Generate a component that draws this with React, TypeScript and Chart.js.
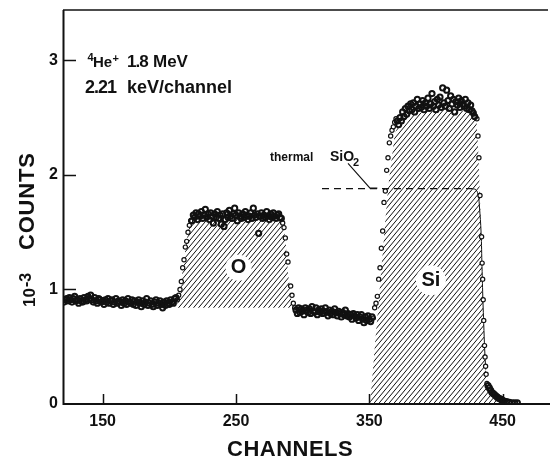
import { useEffect, useRef } from "react";
import { Chart, registerables } from "chart.js";

Chart.register(...registerables);

const FONT = '"Liberation Sans", Arial, sans-serif';
const INK = "#111";

// Axis ticks
const channelTicks = [150, 250, 350, 450];
const countTicks = [0, 1, 2, 3];

// Backscattering spectrum, counts in units of 10^3 per channel.
// Bulk signal in front of the oxygen edge (one value per channel, from lowPlateauStart)
const lowPlateauStart = 121;
const lowPlateauCounts = [
  0.89, 0.91, 0.92, 0.9, 0.93, 0.91, 0.89, 0.92, 0.94, 0.9, 0.91, 0.88, 0.92, 0.9, 0.89, 0.93, 0.91, 0.9, 0.94, 0.92,
  0.95, 0.91, 0.89, 0.93, 0.9, 0.88, 0.92, 0.91, 0.89, 0.9, 0.87, 0.91, 0.89, 0.92, 0.88, 0.9, 0.91, 0.87, 0.89, 0.92,
  0.88, 0.9, 0.89, 0.86, 0.91, 0.88, 0.9, 0.87, 0.92, 0.89, 0.88, 0.91, 0.87, 0.9, 0.86, 0.89, 0.91, 0.88, 0.85, 0.9,
  0.87, 0.89, 0.92, 0.86, 0.88, 0.9, 0.87, 0.85, 0.89, 0.91, 0.86, 0.88, 0.9, 0.87, 0.84, 0.89, 0.86, 0.9, 0.88, 0.87,
  0.91, 0.89, 0.88, 0.92, 0.93,
];
// Oxygen front edge
const oxygenRiseStart = 206;
const oxygenRiseCounts = [0.91, 0.95, 1.0, 1.07, 1.19, 1.26, 1.37, 1.42, 1.5, 1.56, 1.6];
// Oxygen plateau
const oxygenTopStart = 217;
const oxygenTopCounts = [
  1.6, 1.65, 1.63, 1.67, 1.61, 1.66, 1.64, 1.68, 1.62, 1.65,
  1.7, 1.63, 1.66, 1.61, 1.67, 1.64, 1.58, 1.66, 1.63, 1.68,
  1.62, 1.65, 1.57, 1.66, 1.55, 1.61, 1.67, 1.63, 1.69, 1.64,
  1.62, 1.66, 1.71, 1.65, 1.6, 1.67, 1.64, 1.62, 1.66, 1.63,
  1.68, 1.65, 1.61, 1.64, 1.67, 1.62, 1.71, 1.65, 1.63, 1.66,
  1.49, 1.64, 1.67, 1.62, 1.65, 1.63, 1.68, 1.64, 1.61, 1.66,
  1.63, 1.67, 1.64, 1.62, 1.65, 1.66, 1.63, 1.62,
];
// Oxygen rear edge
const oxygenFallChannels = [285, 286, 287, 288, 289, 291, 292, 293, 294];
const oxygenFallCounts = [1.58, 1.54, 1.45, 1.31, 1.24, 1.03, 0.95, 0.88, 0.84];
// Between the oxygen and silicon signals
const valleyStart = 295;
const valleyCounts = [
  0.82, 0.79, 0.84, 0.8, 0.83, 0.81, 0.78, 0.84, 0.82, 0.8,
  0.83, 0.79, 0.85, 0.81, 0.8, 0.84, 0.78, 0.82, 0.8, 0.83,
  0.79, 0.81, 0.84, 0.8, 0.77, 0.82, 0.79, 0.81, 0.78, 0.83,
  0.8, 0.77, 0.81, 0.79, 0.76, 0.8, 0.78, 0.82, 0.77, 0.79,
  0.76, 0.78, 0.74, 0.79, 0.77, 0.75, 0.78, 0.73, 0.76, 0.78,
  0.74, 0.71, 0.76, 0.73, 0.77, 0.74, 0.72, 0.76,
];
// Silicon front edge
const siliconRiseStart = 353;
const siliconRiseCounts = [0.75, 0.84, 0.88, 0.94, 1.09, 1.19, 1.36, 1.51, 1.76, 1.86, 2.04, 2.15, 2.28, 2.34, 2.39, 2.42, 2.46, 2.49];
// Silicon plateau
const siliconTopStart = 371;
const siliconTopCounts = [
  2.47,
  2.44, 2.5, 2.47, 2.55, 2.51, 2.58, 2.53, 2.6, 2.56, 2.62,
  2.57, 2.63, 2.55, 2.6, 2.66, 2.58, 2.62, 2.59, 2.65, 2.57,
  2.63, 2.6, 2.67, 2.58, 2.62, 2.71, 2.6, 2.64, 2.57, 2.66,
  2.61, 2.68, 2.59, 2.76, 2.63, 2.6, 2.74, 2.65, 2.58, 2.69,
  2.62, 2.66, 2.55, 2.64, 2.61, 2.67, 2.59, 2.65, 2.62, 2.6,
  2.66, 2.58, 2.63, 2.57, 2.61, 2.56, 2.54, 2.51,
];
// Silicon surface edge and tail
const siliconFallChannels = [430.7, 431.5, 432.2, 433, 434.2, 434.6, 435, 435.4, 435.8, 436.4, 436.8, 437.2, 437.6, 438.2];
const siliconFallCounts = [2.49, 2.34, 2.15, 1.82, 1.46, 1.23, 1.09, 0.91, 0.73, 0.51, 0.41, 0.33, 0.26, 0.18];
const tailChannels = [439, 440, 441, 442, 443, 444, 445, 446, 447, 448, 449, 450, 451, 453, 455, 457, 459, 461];
const tailCounts = [0.16, 0.14, 0.12, 0.1, 0.09, 0.08, 0.07, 0.06, 0.05, 0.045, 0.04, 0.03, 0.025, 0.02, 0.015, 0.01, 0.01, 0.01];

// Hatched peak areas
const oxygenAreaChannels = [205.5, 208, 213, 215.5, 225, 240, 255, 270, 284.5, 287, 289, 291, 292.5];
const oxygenAreaCounts = [0.84, 1.0, 1.43, 1.6, 1.61, 1.61, 1.62, 1.62, 1.6, 1.45, 1.15, 0.95, 0.84];
const oxygenAreaBase = 0.84;
const siliconAreaChannels = [350.5, 357, 364, 369, 372, 380, 395, 410, 422, 429, 430.5, 431.3, 432, 432.8, 433.8, 434.5, 435.2, 435.8, 436.5, 437.3, 438.2, 440, 444, 450.5];
const siliconAreaCounts = [0, 0.9, 1.88, 2.35, 2.45, 2.52, 2.56, 2.58, 2.56, 2.52, 2.45, 2.3, 2.12, 1.85, 1.5, 1.2, 0.9, 0.7, 0.48, 0.3, 0.18, 0.12, 0.06, 0];

// Thermal SiO2 reference level and its rounded rear edge
const sio2Level = 1.88;
const sio2Channels = [314.5, 427];
const sio2EdgeChannels = [427, 430, 431.7, 432.6, 433.8, 434.5, 435.2, 435.8, 436.5, 437.3];
const sio2EdgeCounts = [1.88, 1.87, 1.82, 1.72, 1.5, 1.2, 0.9, 0.7, 0.48, 0.3];
const leaderChannels = [334, 350.5, 356];
const leaderCounts = [2.1, 1.885, 1.885];

const run = (start: number, counts: number[]) => counts.map((c, i) => ({ x: start + i, y: c }));
const pairs = (chs: number[], counts: number[]) => chs.map((ch, i) => ({ x: ch, y: counts[i] }));

// Plateaus, where channels pile up into a dark band
const densePoints = [
  ...run(lowPlateauStart, lowPlateauCounts),
  ...run(oxygenTopStart, oxygenTopCounts),
  ...run(valleyStart, valleyCounts),
  ...run(siliconTopStart, siliconTopCounts),
  ...pairs(tailChannels, tailCounts),
];
// Edges, where single channels stand apart
const edgePoints = [
  ...run(oxygenRiseStart, oxygenRiseCounts),
  ...pairs(oxygenFallChannels, oxygenFallCounts),
  ...run(siliconRiseStart, siliconRiseCounts),
  ...pairs(siliconFallChannels, siliconFallCounts),
];

function makeHatch(): CanvasPattern | string {
  const w = 5;
  const h = 6;
  const c = document.createElement("canvas");
  c.width = w;
  c.height = h;
  const g = c.getContext("2d");
  if (!g) return INK;
  g.strokeStyle = INK;
  g.lineWidth = 1;
  g.beginPath();
  for (const dx of [-w, 0, w]) {
    g.moveTo(dx - w, 2 * h);
    g.lineTo(dx + 2 * w, -h);
  }
  g.stroke();
  return g.createPattern(c, "repeat") || INK;
}

const text = (
  ctx: CanvasRenderingContext2D,
  s: string,
  x: number,
  y: number,
  size: number,
  spacing = 0
) => {
  ctx.font = `bold ${size}px ${FONT}`;
  (ctx as any).letterSpacing = `${spacing}px`;
  ctx.fillText(s, x, y);
  (ctx as any).letterSpacing = "0px";
};

const decorations = {
  id: "decorations",
  afterDatasetsDraw(chart: Chart) {
    const { ctx } = chart;
    const xs = chart.scales.x;
    const ys = chart.scales.y;
    const badge = (label: string, ch: number, v: number, r: number, size: number) => {
      const px = xs.getPixelForValue(ch);
      const py = ys.getPixelForValue(v);
      ctx.save();
      ctx.fillStyle = "#fff";
      ctx.beginPath();
      ctx.arc(px, py, r, 0, Math.PI * 2);
      ctx.fill();
      ctx.fillStyle = INK;
      ctx.font = `bold ${size}px ${FONT}`;
      ctx.textAlign = "center";
      ctx.textBaseline = "middle";
      ctx.fillText(label, px, py);
      ctx.restore();
    };
    badge("O", 251.9, 1.19, 13, 20);
    badge("Si", 396.2, 1.08, 15, 20);
  },
  afterDraw(chart: Chart) {
    const { ctx, chartArea } = chart;
    const { left, top, bottom } = chartArea;
    const xs = chart.scales.x;
    const ys = chart.scales.y;
    ctx.save();
    ctx.strokeStyle = INK;
    ctx.lineCap = "butt";
    // frame
    ctx.lineWidth = 2;
    ctx.beginPath();
    ctx.moveTo(left - 0.5, top);
    ctx.lineTo(left - 0.5, bottom);
    ctx.lineTo(chart.width, bottom);
    ctx.stroke();
    ctx.lineWidth = 1.5;
    ctx.beginPath();
    ctx.moveTo(left - 1, top);
    ctx.lineTo(chart.width - 2, top);
    ctx.stroke();
    // inward tick marks
    ctx.lineWidth = 1.5;
    ctx.beginPath();
    for (const v of countTicks) {
      if (v === 0) continue;
      const py = Math.round(ys.getPixelForValue(v)) + 0.5;
      ctx.moveTo(left, py);
      ctx.lineTo(left + 12, py);
    }
    for (const v of channelTicks) {
      const px = Math.round(xs.getPixelForValue(v)) + 0.5;
      ctx.moveTo(px, bottom);
      ctx.lineTo(px, bottom - 10);
    }
    ctx.stroke();

    ctx.fillStyle = INK;
    ctx.textBaseline = "alphabetic";
    ctx.textAlign = "left";
    // beam annotation
    text(ctx, "4", 87.5, 61, 11);
    text(ctx, "He", 93, 67, 15);
    text(ctx, "+", 112.5, 62, 11);
    text(ctx, "1.8", 127, 67, 17, -1);
    text(ctx, "MeV", 153, 67, 17);
    text(ctx, "2.21", 85, 93, 18, -1);
    text(ctx, "keV/channel", 127, 93, 18);
    // oxide label
    text(ctx, "thermal", 270, 161, 12);
    text(ctx, "SiO", 330, 161, 14);
    text(ctx, "2", 353, 166, 11);
    // x title
    text(ctx, "CHANNELS", 227, 456, 22, 0.5);
    // y title, rotated
    ctx.translate(34, 307);
    ctx.rotate(-Math.PI / 2);
    text(ctx, "10", 0, 1, 17);
    text(ctx, "-3", 20, -3, 16);
    text(ctx, "COUNTS", 57, -0.5, 22, 0.8);
    ctx.restore();
  },
};

export default function App() {
  const ref = useRef<HTMLCanvasElement | null>(null);

  useEffect(() => {
    const canvas = ref.current;
    if (!canvas) return;
    Chart.defaults.font.family = FONT;
    const hatch = makeHatch();

    const chart = new Chart(canvas, {
      type: "scatter",
      data: {
        datasets: [
          {
            type: "scatter",
            data: densePoints,
            pointRadius: 2.6,
            pointBorderWidth: 2,
            pointBorderColor: INK,
            pointBackgroundColor: "rgba(0,0,0,0)",
            order: 0,
          },
          {
            type: "scatter",
            data: edgePoints,
            pointRadius: 2.1,
            pointBorderWidth: 1.2,
            pointBorderColor: INK,
            pointBackgroundColor: "#fff",
            order: 0,
          },
          {
            type: "line",
            data: sio2Channels.map((ch) => ({ x: ch, y: sio2Level })),
            borderColor: INK,
            borderWidth: 1.2,
            borderDash: [7, 5],
            pointRadius: 0,
            fill: false,
            order: 1,
          },
          {
            type: "line",
            data: pairs(sio2EdgeChannels, sio2EdgeCounts),
            borderColor: INK,
            borderWidth: 1,
            tension: 0.4,
            pointRadius: 0,
            fill: false,
            order: 1,
          },
          {
            type: "line",
            data: pairs(leaderChannels, leaderCounts),
            borderColor: INK,
            borderWidth: 1.1,
            pointRadius: 0,
            fill: false,
            order: 1,
          },
          {
            type: "line",
            data: pairs(oxygenAreaChannels, oxygenAreaCounts),
            borderColor: "rgba(0,0,0,0)",
            borderWidth: 0,
            pointRadius: 0,
            backgroundColor: hatch as any,
            fill: { value: oxygenAreaBase },
            order: 2,
          },
          {
            type: "line",
            data: pairs(siliconAreaChannels, siliconAreaCounts),
            borderColor: "rgba(0,0,0,0)",
            borderWidth: 0,
            pointRadius: 0,
            backgroundColor: hatch as any,
            fill: { value: 0 },
            order: 2,
          },
        ],
      },
      options: {
        responsive: false,
        animation: false,
        events: [],
        layout: { autoPadding: false, padding: { top: 10, left: 0, right: 0, bottom: 0 } },
        plugins: { legend: { display: false }, tooltip: { enabled: false } },
        scales: {
          x: {
            type: "linear",
            min: 121,
            max: 485.5,
            grid: { display: false, drawTicks: false },
            border: { display: false },
            afterBuildTicks: (s: any) => {
              s.ticks = channelTicks.map((v) => ({ value: v }));
            },
            afterFit: (s: any) => {
              s.height = 54;
              s.paddingLeft = 0;
              s.paddingRight = 0;
            },
            ticks: {
              font: { size: 16, weight: "bold" },
              color: INK,
              padding: 8,
              maxRotation: 0,
              autoSkip: false,
            },
          },
          y: {
            type: "linear",
            min: 0,
            max: 3.44,
            grid: { display: false, drawTicks: false },
            border: { display: false },
            afterBuildTicks: (s: any) => {
              s.ticks = countTicks.map((v) => ({ value: v }));
            },
            afterFit: (s: any) => {
              s.width = 64;
              s.paddingTop = 0;
              s.paddingBottom = 0;
            },
            ticks: {
              font: { size: 16, weight: "bold" },
              color: INK,
              padding: 6,
              autoSkip: false,
            },
          },
        },
      },
      plugins: [decorations as any],
    });

    return () => chart.destroy();
  }, []);

  return (
    <div style={{ position: "fixed", left: 0, top: 0, width: 550, height: 458, background: "#fff" }}>
      <canvas ref={ref} width={550} height={458} style={{ display: "block", width: 550, height: 458 }} />
    </div>
  );
}
